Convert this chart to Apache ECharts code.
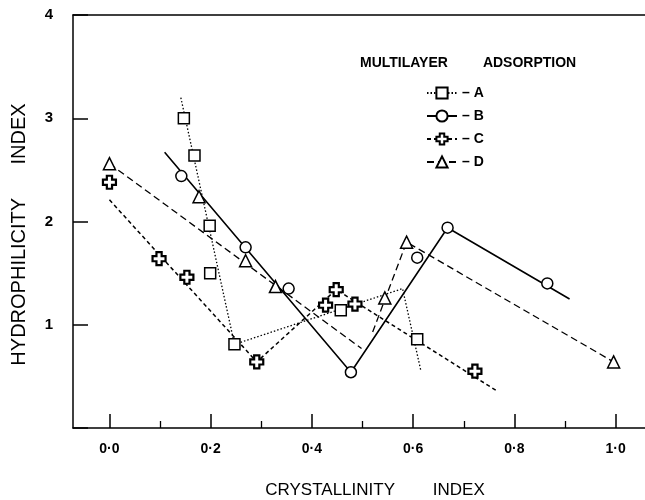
<!DOCTYPE html>
<html><head><meta charset="utf-8">
<script src="https://cdn.jsdelivr.net/npm/echarts@6/dist/echarts.min.js"></script>
<style>html,body{margin:0;padding:0;background:#fff}#c{width:645px;height:500px}</style>
</head><body><div id="c"></div>
<script>
// ---- data ----
const xTicks = [0, 0.2, 0.4, 0.6, 0.8, 1.0];
const xTickLabels = ['0·0', '0·2', '0·4', '0·6', '0·8', '1·0'];
const xMinorTicks = [0.1, 0.3, 0.5, 0.7, 0.9];
const yTickLabels = ['', '1', '2', '3', '4'];

const seriesNames = ['A', 'B', 'C', 'D'];

const pointsA = [[0.147, 3.00], [0.168, 2.64], [0.198, 1.96], [0.199, 1.50], [0.247, 0.81], [0.457, 1.14], [0.608, 0.86]];
const lineA = [[[0.141, 3.20], [0.247, 0.81], [0.579, 1.35], [0.615, 0.56]]];

const pointsB = [[0.142, 2.44], [0.269, 1.75], [0.354, 1.35], [0.477, 0.54], [0.608, 1.65], [0.668, 1.94], [0.865, 1.40]];
const lineB = [[[0.109, 2.67], [0.477, 0.54], [0.668, 1.94], [0.909, 1.25]]];

const pointsC = [[0.0, 2.38], [0.098, 1.64], [0.153, 1.46], [0.291, 0.64], [0.427, 1.19], [0.448, 1.34], [0.485, 1.20], [0.722, 0.55]];
const lineC = [[[0.0, 2.21], [0.291, 0.64], [0.448, 1.34], [0.765, 0.36]]];

const pointsD = [[0.0, 2.56], [0.177, 2.24], [0.269, 1.62], [0.328, 1.37], [0.544, 1.26], [0.587, 1.80], [0.996, 0.64]];
const lineD = [[[0.0, 2.56], [0.498, 0.77]], [[0.520, 0.93], [0.587, 1.80], [0.996, 0.64]]];

const xTitle = 'CRYSTALLINITY        INDEX';
const yTitle = 'HYDROPHILICITY      INDEX';
const legendTitle = 'MULTILAYER         ADSORPTION';

// ---- styling ----
const FONT = '"Liberation Sans", Arial, Helvetica, sans-serif';
const plus = 'path://M-1.2,-3L1.2,-3L1.2,-1.2L3,-1.2L3,1.2L1.2,1.2L1.2,3L-1.2,3L-1.2,1.2L-3,1.2L-3,-1.2L-1.2,-1.2Z';
const look = {
  A: {symbol: 'rect', size: 11, dash: [1.5, 2], width: 1.3, bw: 1.5},
  B: {symbol: 'circle', size: 11, dash: 'solid', width: 1.6, bw: 1.5},
  C: {symbol: plus, size: 13, dash: [4, 3], width: 1.5, bw: 2.2},
  D: {symbol: 'triangle', size: 12, dash: [7, 4], width: 1.3, bw: 1.5}
};
const groups = {A: [pointsA, lineA], B: [pointsB, lineB], C: [pointsC, lineC], D: [pointsD, lineD]};

const series = [];
seriesNames.forEach(function (n) {
  const L = look[n];
  groups[n][1].forEach(function (seg) {
    series.push({
      type: 'line', name: n, data: seg, xAxisIndex: 0, yAxisIndex: 0,
      symbol: L.symbol, symbolSize: L.size, showSymbol: false, silent: true,
      lineStyle: {color: '#000', width: L.width, type: L.dash},
      itemStyle: {color: '#fff', borderColor: '#000', borderWidth: L.bw},
      z: 2
    });
  });
});
seriesNames.forEach(function (n) {
  const L = look[n];
  series.push({
    type: 'scatter', name: n, data: groups[n][0], xAxisIndex: 0, yAxisIndex: 0,
    symbol: L.symbol, symbolSize: L.size, silent: true,
    itemStyle: {color: '#fff', borderColor: '#000', borderWidth: L.bw, opacity: 1},
    z: 5
  });
});

const XMIN = -0.072, XMAX = 1.058;
const chart = echarts.init(document.getElementById('c'));
chart.setOption({
  animation: false,
  backgroundColor: '#fff',
  color: ['#000'],
  title: {
    text: legendTitle, left: 360, top: 56, padding: 0,
    textStyle: {fontFamily: FONT, fontWeight: 'bold', fontSize: 14, color: '#000'}
  },
  legend: {
    data: seriesNames, orient: 'vertical', left: 426, top: 86, padding: 0,
    itemWidth: 30, itemHeight: 14, itemGap: 9, selectedMode: false,
    formatter: '– {name}',
    textStyle: {fontFamily: FONT, fontWeight: 'bold', fontSize: 14, color: '#000', lineHeight: 14}
  },
  grid: {left: 73, right: 0, top: 15, bottom: 72, containLabel: false, outerBoundsMode: 'none'},
  xAxis: [
    {
      type: 'value', min: XMIN, max: XMAX, position: 'bottom',
      axisLine: {show: true, onZero: false, lineStyle: {color: '#000', width: 1.5}},
      axisTick: {show: true, inside: true, length: 14, customValues: xTicks, lineStyle: {color: '#000', width: 1.5}},
      axisLabel: {
        customValues: xTicks, margin: 14, fontFamily: FONT, fontWeight: 'bold', fontSize: 14, color: '#000',
        formatter: function (v) { const i = xTicks.findIndex(function (t) { return Math.abs(t - v) < 1e-6; }); return i >= 0 ? xTickLabels[i] : ''; }
      },
      splitLine: {show: false},
      name: xTitle, nameLocation: 'middle', nameGap: 54,
      nameTextStyle: {fontFamily: FONT, fontSize: 17, color: '#000', padding: [0, 0, 0, 32]}
    },
    {
      type: 'value', min: XMIN, max: XMAX, position: 'bottom',
      axisLine: {show: false},
      axisTick: {show: true, inside: true, length: 7, customValues: xMinorTicks, lineStyle: {color: '#000', width: 1.3}},
      axisLabel: {show: false}, splitLine: {show: false}
    },
    {
      type: 'value', min: XMIN, max: XMAX, position: 'top',
      axisLine: {show: true, onZero: false, lineStyle: {color: '#000', width: 1.5}},
      axisTick: {show: false}, axisLabel: {show: false}, splitLine: {show: false}
    }
  ],
  yAxis: {
    type: 'value', min: 0, max: 4, interval: 1,
    axisLine: {show: true, onZero: false, lineStyle: {color: '#000', width: 1.5}},
    axisTick: {show: true, inside: true, length: 15, lineStyle: {color: '#000', width: 1.5}},
    axisLabel: {
      margin: 20, fontFamily: FONT, fontWeight: 'bold', fontSize: 15, color: '#000',
      formatter: function (v) { return yTickLabels[Math.round(v)] || ''; }
    },
    splitLine: {show: false},
    name: yTitle, nameLocation: 'middle', nameGap: 44, nameRotate: 90,
    nameTextStyle: {fontFamily: FONT, fontSize: 20, color: '#000', padding: [0, 26, 0, 0]}
  },
  series: series
});
</script></body></html>
